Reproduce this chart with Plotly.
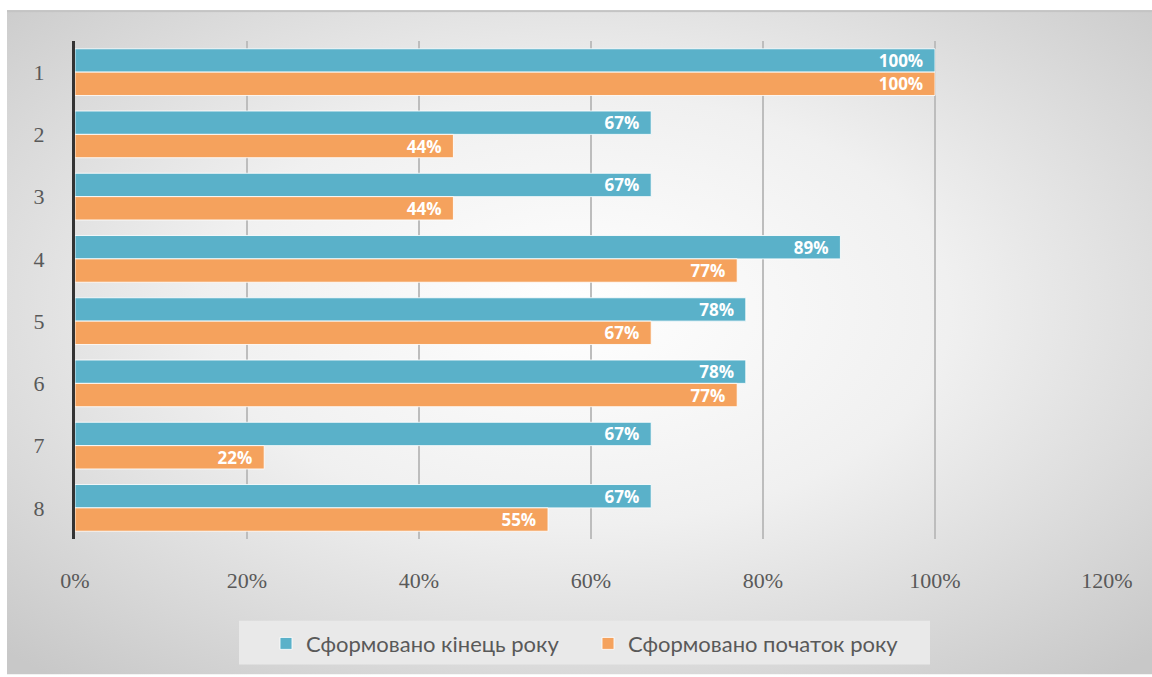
import base64
import plotly.graph_objects as go

# Category labels and series values (percent)
categories = ["1", "2", "3", "4", "5", "6", "7", "8"]
end_of_year = [100, 67, 67, 89, 78, 78, 67, 67]
start_of_year = [100, 44, 44, 77, 67, 77, 22, 55]
x_ticks = [0, 20, 40, 60, 80, 100, 120]

series_names = ["Сформовано кінець року", "Сформовано початок року"]
colors = ["#5AB1C9", "#F5A25D"]

W, H = 1152, 677
L, R, T, B = 75, 45, 41, 136
plot_w = W - L - R
plot_h = H - T - B

# Soft radial backdrop for the whole chart frame
frame_w, frame_h = W - 7, H - 10
svg = (
    f"<svg xmlns='http://www.w3.org/2000/svg' width='{frame_w}' height='{frame_h}'>"
    "<defs><radialGradient id='g' cx='50%' cy='45%' r='72%'>"
    "<stop offset='0' stop-color='#ffffff'/>"
    "<stop offset='0.45' stop-color='#f0f0f0'/>"
    "<stop offset='1' stop-color='#c8c8c8'/>"
    "</radialGradient></defs>"
    f"<rect width='{frame_w}' height='{frame_h}' fill='url(#g)'/>"
    f"<rect x='0' y='0' width='{frame_w}' height='2' fill='#c4c4c4'/>"
    "</svg>"
)
bg_src = "data:image/svg+xml;base64," + base64.b64encode(svg.encode()).decode()

fig = go.Figure()
for name, vals, col in zip(series_names, [end_of_year, start_of_year], colors):
    fig.add_trace(go.Bar(
        y=categories,
        x=vals,
        name=name,
        orientation="h",
        marker=dict(color=col, line=dict(color="rgba(255,255,255,0.85)", width=1)),
        text=[f"{v}%\u00a0\u00a0" for v in vals],
        textposition="inside",
        insidetextanchor="end",
        constraintext="none",
        textfont=dict(family="Open Sans", size=17, color="white", weight="bold"),
        cliponaxis=False,
    ))

fig.update_layout(
    width=W,
    height=H,
    margin=dict(l=L, r=R, t=T, b=B),
    barmode="group",
    bargap=0.25,
    bargroupgap=0,
    paper_bgcolor="white",
    plot_bgcolor="rgba(0,0,0,0)",
    showlegend=True,
    legend=dict(
        orientation="h",
        x=(588 - L) / plot_w,
        xanchor="center",
        y=(T + plot_h - 646) / plot_h,
        yanchor="middle",
        bgcolor="rgba(0,0,0,0)",
        font=dict(family="Lato", size=22, color="#595959"),
        itemwidth=30,
        entrywidth=277,
        traceorder="normal",
    ),
    images=[dict(
        source=bg_src,
        xref="paper", yref="paper",
        x=(7 - L) / plot_w, y=1 + (T - 10) / plot_h,
        sizex=frame_w / plot_w, sizey=frame_h / plot_h,
        xanchor="left", yanchor="top",
        sizing="stretch", layer="below",
    )],
    shapes=[dict(
        type="rect", xref="paper", yref="paper",
        x0=(239 - L) / plot_w, x1=(930 - L) / plot_w,
        y0=(T + plot_h - 623) / plot_h, y1=(T + plot_h - 667) / plot_h,
        fillcolor="#e9e9e9", line=dict(width=0), layer="below",
    )],
)

fig.update_xaxes(
    range=[0, 120],
    tickvals=x_ticks,
    ticktext=[f"{v}%" for v in x_ticks],
    showgrid=True,
    gridcolor="#bdbdbd",
    gridwidth=1.5,
    zeroline=False,
    showline=False,
    ticks="",
    ticklabelstandoff=26,
    tickfont=dict(family="Liberation Serif", size=22, color="#595959"),
)
fig.update_yaxes(
    autorange="reversed",
    showgrid=False,
    showline=True,
    linecolor="#333333",
    linewidth=3,
    ticks="",
    ticklabelstandoff=23,
    tickfont=dict(family="Liberation Serif", size=22, color="#595959"),
)

fig.write_html("out.html")
